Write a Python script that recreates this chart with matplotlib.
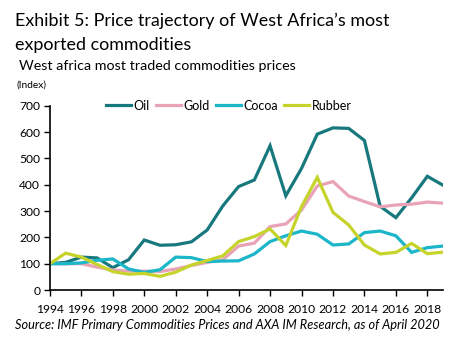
import matplotlib
matplotlib.use("Agg")
import matplotlib.pyplot as plt

years = list(range(1994, 2020))
oil = [100, 105, 125, 122, 85, 115, 190, 170, 172, 183, 228, 320, 393, 418, 548, 358,
       462, 592, 616, 614, 568, 318, 275, 350, 432, 398]
gold = [100, 100, 100, 87, 76, 72, 72, 70, 80, 93, 105, 115, 167, 178, 241, 251,
        304, 395, 412, 357, 336, 316, 323, 326, 334, 330]
cocoa = [100, 100, 103, 113, 118, 80, 67, 77, 125, 123, 108, 110, 111, 137, 184, 206,
         224, 212, 171, 175, 218, 224, 206, 143, 161, 167]
rubber = [100, 140, 125, 97, 70, 60, 63, 52, 68, 95, 112, 130, 184, 203, 232, 169,
          317, 428, 295, 247, 171, 137, 143, 177, 138, 144]
series_names = ["Oil", "Gold", "Cocoa", "Rubber"]
colors = ["#17787d", "#e9a3b6", "#1cb6c9", "#c5d32b"]
xticks = list(range(1994, 2019, 2))
yticks = list(range(0, 701, 100))

plt.rcParams['font.family'] = ['Lato', 'DejaVu Sans']

fig = plt.figure(figsize=(4.62, 3.49), dpi=100)
ax = fig.add_axes([0.108, 0.169, 0.851, 0.528])

for name, vals, c in zip(series_names, [oil, gold, cocoa, rubber], colors):
    ax.plot(years, vals, color=c, lw=2.3, label=name, solid_joinstyle='miter')

ax.set_xlim(1994, 2019)
ax.set_ylim(0, 700)
ax.set_xticks(xticks)
ax.set_yticks(yticks)
ax.tick_params(axis='both', labelsize=8.7, direction='out', length=4, width=1, color='black', pad=3)
ax.tick_params(axis='x', pad=6)
for s in ['top', 'right']:
    ax.spines[s].set_visible(False)
for s in ['left', 'bottom']:
    ax.spines[s].set_linewidth(1.2)

leg = ax.legend(loc='center', bbox_to_anchor=(0.455, 1.0), ncol=4, frameon=False,
                fontsize=9, handlelength=2.0, handletextpad=0.25, columnspacing=0.45,
                borderaxespad=0)

fig.text(0.032, 0.925, "Exhibit 5: Price trajectory of West Africa\u2019s most",
         fontsize=12.9, ha='left', va='baseline')
fig.text(0.032, 0.858, "exported commodities", fontsize=12.9, ha='left', va='baseline')
fig.text(0.042, 0.800, "West africa most traded commodities prices", fontsize=10.3,
         ha='left', va='baseline')
fig.text(0.036, 0.750, "(Index)", fontsize=7.3, ha='left', va='baseline')
fig.text(0.032, 0.058, "Source: IMF Primary Commodities Prices and AXA IM Research, as of April 2020",
         fontsize=9.2, style='italic', ha='left', va='baseline')

fig.savefig("out.png", dpi=100)
